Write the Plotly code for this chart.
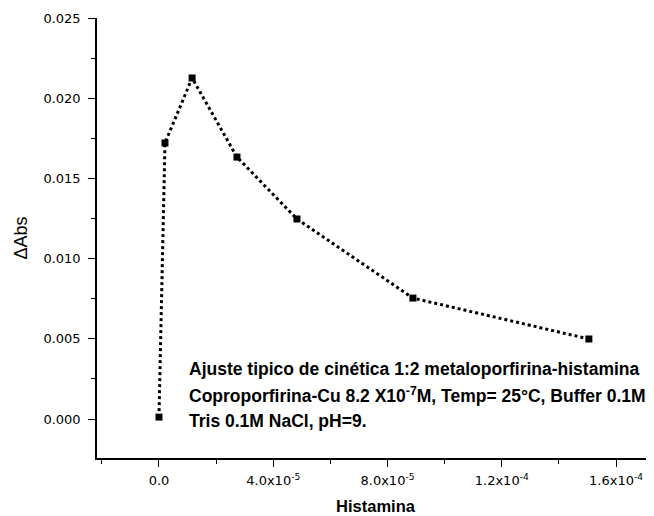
import plotly.graph_objects as go

histamina = [0.0, 2.1e-6, 1.16e-5, 2.73e-5, 4.83e-5, 8.89e-5, 1.505e-4]
delta_abs = [0.00012, 0.01721, 0.02126, 0.01633, 0.01247, 0.00754, 0.00499]

x_tickvals = [0, 4e-5, 8e-5, 1.2e-4, 1.6e-4]
x_ticktext = ["0.0", "4.0x10<sup>-5</sup>", "8.0x10<sup>-5</sup>", "1.2x10<sup>-4</sup>", "1.6x10<sup>-4</sup>"]
y_tickvals = [0, 0.005, 0.010, 0.015, 0.020, 0.025]
y_ticktext = ["0.000", "0.005", "0.010", "0.015", "0.020", "0.025"]

note_lines = [
    "Ajuste tipico de cinética 1:2 metaloporfirina-histamina",
    "Coproporfirina-Cu 8.2 X10<sup>-7</sup>M, Temp= 25°C, Buffer 0.1M",
    "Tris 0.1M NaCl, pH=9.",
]

# page body has an 8px margin; plot area spans x 97..654, y 18..458 in the window
OFF = 8
PL, PR, PT, PB = 97, 654, 18, 458

fig = go.Figure()
fig.add_trace(go.Scatter(
    x=histamina, y=delta_abs, mode="lines+markers",
    line=dict(color="black", width=3, dash="dot"),
    marker=dict(symbol="square", size=7, color="black"),
    showlegend=False,
))

W, H = 654 - OFF, 516 - OFF
fig.update_layout(
    width=W, height=H,
    margin=dict(l=PL - OFF, r=0, t=PT - OFF, b=516 - PB),
    paper_bgcolor="white", plot_bgcolor="white",
    font=dict(family="DejaVu Sans, Arial, sans-serif", color="black", size=13),
    xaxis=dict(
        range=[-2.17e-5, 1.733e-4],
        tickvals=x_tickvals, ticktext=x_ticktext,
        ticks="outside", ticklen=7, tickwidth=1, tickcolor="black",
        ticklabelstandoff=3,
        showline=True, linecolor="black", linewidth=1.5,
        showgrid=False, zeroline=False,
        minor=dict(tickvals=[-2e-5, 2e-5, 6e-5, 1e-4, 1.4e-4], ticks="outside", ticklen=4, tickcolor="black"),
        title=dict(text="<b>Histamina</b>", font=dict(size=16.5, family="Liberation Sans, Arial"), standoff=13),
        tickfont=dict(size=13, family="DejaVu Sans, Arial"),
    ),
    yaxis=dict(
        range=[-0.00243, 0.025],
        tickvals=y_tickvals, ticktext=y_ticktext,
        ticks="outside", ticklen=7, tickwidth=1, tickcolor="black",
        ticklabelstandoff=5,
        showline=True, linecolor="black", linewidth=1.5,
        showgrid=False, zeroline=False,
        minor=dict(tickvals=[0.0025, 0.0075, 0.0125, 0.0175, 0.0225], ticks="outside", ticklen=4, tickcolor="black"),
        title=dict(text="ΔAbs", font=dict(size=18, family="Liberation Sans, Arial"), standoff=11),
        tickfont=dict(size=13, family="DejaVu Sans, Arial"),
    ),
)

plot_w = PR - PL
plot_h = PB - PT
for i, line in enumerate(note_lines):
    px, py = 187, 369 + 26 * i
    fig.add_annotation(
        x=(px - PL) / plot_w, y=1 - (py - PT) / plot_h, xref="paper", yref="paper",
        text="<b>" + line + "</b>", showarrow=False,
        xanchor="left", yanchor="middle",
        font=dict(size=17.5, family="Liberation Sans, Arial", color="black"),
    )

fig.write_html("out.html")
